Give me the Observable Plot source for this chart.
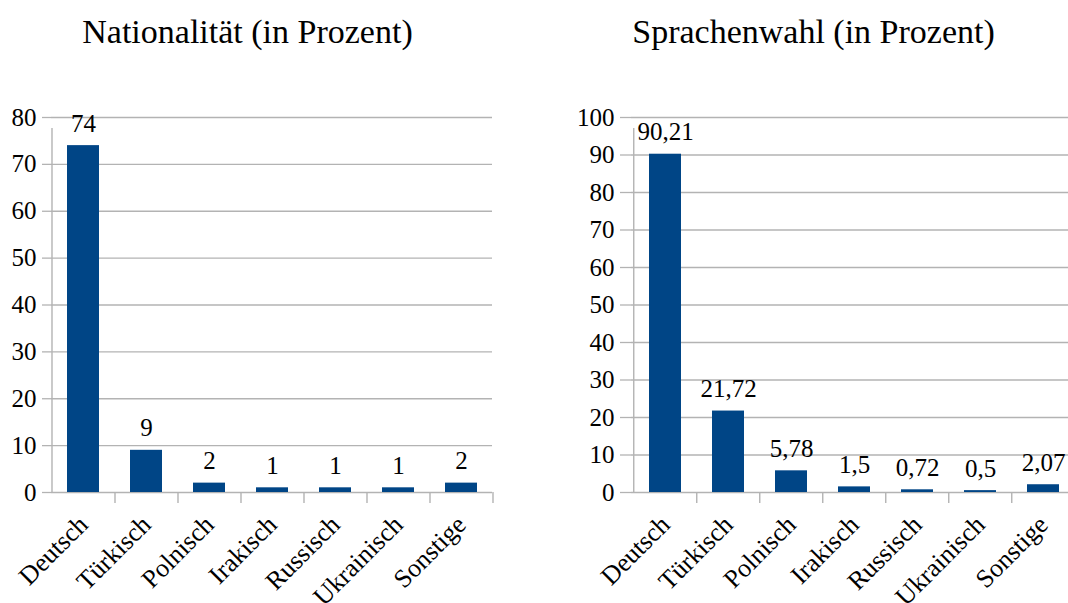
<!DOCTYPE html>
<html>
<head>
<meta charset="utf-8">
<script src="https://cdn.jsdelivr.net/npm/d3@7"></script>
<script src="https://cdn.jsdelivr.net/npm/@observablehq/plot@0.6"></script>
<style>
  html, body { margin: 0; padding: 0; background: #fff; }
  #wrap { position: relative; width: 1068px; height: 603px; overflow: hidden; font-family: "Liberation Serif", serif; }
  .title { position: absolute; top: 15px; font-size: 34px; line-height: 34px; white-space: nowrap; transform: translateX(-50%); color: #000; }
  .panel { position: absolute; top: 80px; width: 540px; height: 523px; }
  .panel svg { max-width: none !important; font-family: "Liberation Serif", serif !important; }
  .panel svg text { font-family: "Liberation Serif", serif !important; }
</style>
</head>
<body>
<div id="wrap">
  <div class="title" style="left:247.5px">Nationalität (in Prozent)</div>
  <div class="title" style="left:813.5px">Sprachenwahl (in Prozent)</div>
  <div class="panel" id="p1" style="left:0px"></div>
  <div class="panel" id="p2" style="left:560px"></div>
</div>
<script>
const categories = ["Deutsch", "Türkisch", "Polnisch", "Irakisch", "Russisch", "Ukrainisch", "Sonstige"];
const nationalitaet = [74, 9, 2, 1, 1, 1, 2];
const sprachenwahl = [90.21, 21.72, 5.78, 1.5, 0.72, 0.5, 2.07];
const ticksLeft = [0, 10, 20, 30, 40, 50, 60, 70, 80];
const ticksRight = [0, 10, 20, 30, 40, 50, 60, 70, 80, 90, 100];

const BAR = "#004586";
const GRID = "#b3b3b3";
const FONT = "Liberation Serif";
const W = 540;
const fmt = v => String(v).replace(".", ",");

function makeChart(values, yMax, ticks, marginLeft, marginRight, tickSize) {
  const data = categories.map((c, i) => ({cat: c, value: values[i]}));
  // band step: paddingInner 0.5 + 2 * paddingOuter 0.25 => range / n
  const step = (W - marginLeft - marginRight) / categories.length;
  const last = categories[categories.length - 1];
  return Plot.plot({
    width: W,
    height: 523,
    marginLeft,
    marginRight,
    marginTop: 37,
    marginBottom: 111,
    style: {fontFamily: FONT, fontSize: "24px", color: "#000", background: "transparent", overflow: "visible", maxWidth: "none"},
    x: {domain: categories, paddingInner: 0.5, paddingOuter: 0.25, label: null},
    y: {domain: [0, yMax], label: null},
    marks: [
      Plot.gridY(ticks, {stroke: GRID, strokeOpacity: 1, strokeWidth: 1.3}),
      Plot.axisY(ticks, {tickSize, stroke: GRID, strokeWidth: 1.3, strokeOpacity: 1, tickPadding: 6, fontSize: 25, fontFamily: FONT, fill: "#000", label: null}),
      // vertical axis line at the left edge of the first band
      Plot.ruleX([categories[0]], {x: d => d, dx: -step / 2, y1: 0, y2: yMax, insetBottom: -11, stroke: GRID, strokeWidth: 1.4}),
      // category boundary ticks below the baseline
      Plot.ruleX(categories.slice(1), {x: d => d, dx: -step / 2, y1: 0, y2: 0, insetBottom: -11, stroke: GRID, strokeWidth: 1.4}),
      Plot.ruleX([last], {x: d => d, dx: step / 2, y1: 0, y2: 0, insetBottom: -11, stroke: GRID, strokeWidth: 1.4}),
      Plot.barY(data, {x: "cat", y: "value", fill: BAR}),
      Plot.text(data, {x: "cat", y: "value", text: d => fmt(d.value), lineAnchor: "bottom", dy: -14, fontSize: 25, fontFamily: FONT, fill: "#000"}),
      Plot.axisX({tickSize: 0, tickRotate: -45, textAnchor: "end", fontSize: 26, fontFamily: FONT, fill: "#000", dx: 0, dy: 16, label: null})
    ]
  });
}

document.getElementById("p1").append(makeChart(nationalitaet, 80, ticksLeft, 51, 48, 9));
document.getElementById("p2").append(makeChart(sprachenwahl, 100, ticksRight, 71, 24.5, 11));
</script>
</body>
</html>
